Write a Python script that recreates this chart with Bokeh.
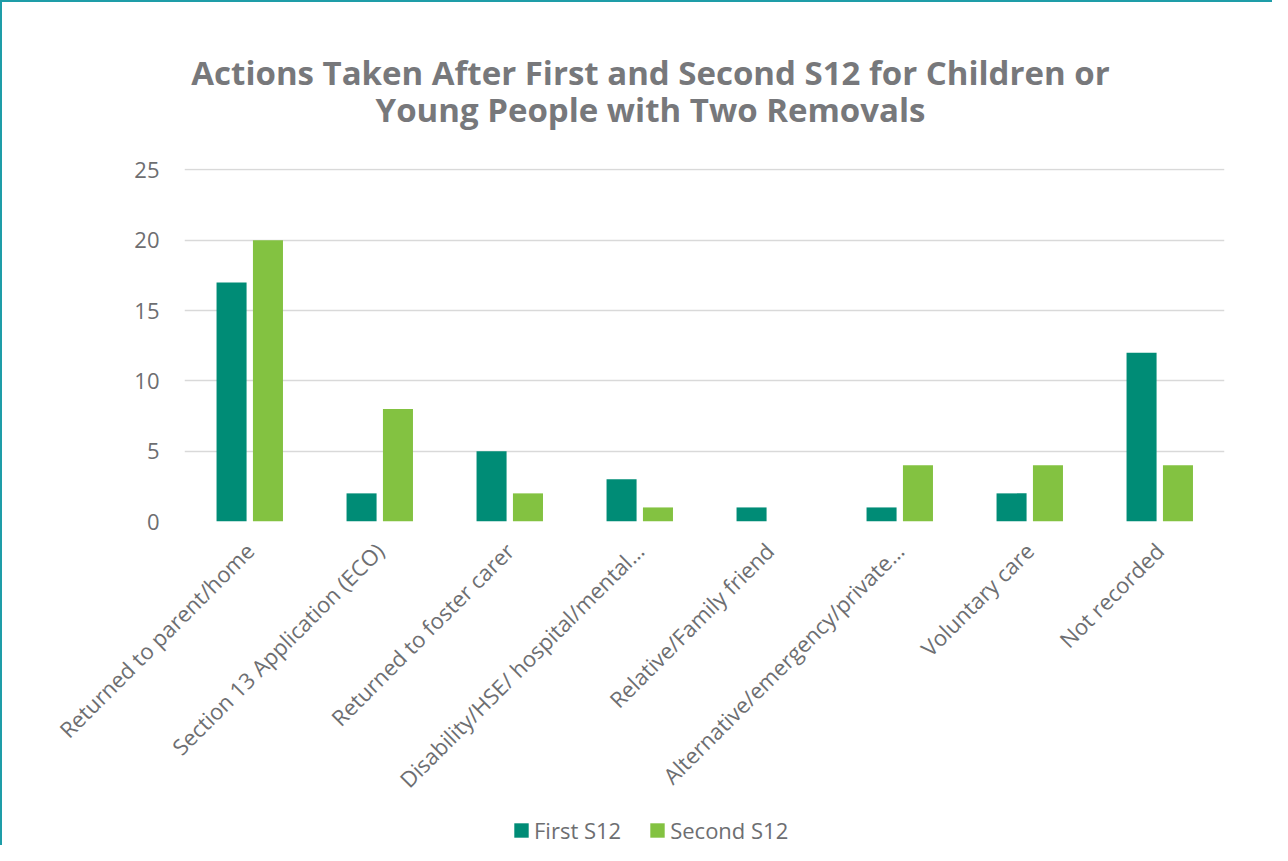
import math
from bokeh.plotting import figure
from bokeh.layouts import column
from bokeh.models import (ColumnDataSource, FactorRange, Range1d, Label, Legend,
                          LegendItem, FixedTicker)
from bokeh.transform import dodge
from bokeh.embed import file_html
from bokeh.resources import INLINE

categories = [
    "Returned to parent/home",
    "Section 13 Application (ECO)",
    "Returned to foster carer",
    "Disability/HSE/ hospital/mental\u2026",
    "Relative/Family friend",
    "Alternative/emergency/private\u2026",
    "Voluntary care",
    "Not recorded",
]
first_s12 = [17, 2, 5, 3, 1, 1, 2, 12]
second_s12 = [20, 8, 2, 1, 0, 4, 4, 4]
y_ticks = [0, 5, 10, 15, 20, 25]
series_names = ["First S12", "Second S12"]
title_lines = ["Actions Taken After First and Second S12 for Children or",
               "Young People with Two Removals"]

TEAL = "#008C76"
GREEN = "#83C241"
GRAY = "#6D6E71"
TITLE_GRAY = "#77787B"
FONT = "Open Sans"
W = 1270
FRAME_L = 182
FRAME_R = 1222


def blank(fig):
    fig.axis.visible = False
    fig.grid.visible = False
    fig.outline_line_color = None
    return fig


# ---- title strip ----
HT = 131
tfig = blank(figure(width=W, height=HT, x_range=Range1d(0, 1), y_range=Range1d(0, 1),
                    output_backend="svg", toolbar_location=None,
                    min_border_left=FRAME_L, min_border_right=W - FRAME_R,
                    min_border_top=0, min_border_bottom=0))
for txt, yb in ((title_lines[0], HT - 70), (title_lines[1], HT - 106.5)):
    tfig.add_layout(Label(x=648 - FRAME_L, y=yb, x_units="screen", y_units="screen",
                          text=txt, text_align="center", text_baseline="alphabetic",
                          text_font=FONT, text_font_style="bold",
                          text_font_size="33px", text_color=TITLE_GRAY))

# ---- main chart ----
HM = 678
src = ColumnDataSource(dict(cat=categories, first=first_s12, second=second_s12))
p = figure(x_range=FactorRange(*categories), y_range=Range1d(0, 25.1),
           width=W, height=HM, output_backend="svg", toolbar_location=None,
           min_border_left=FRAME_L, min_border_right=W - FRAME_R,
           min_border_top=35, min_border_bottom=290)

r1 = p.vbar(x=dodge("cat", -0.138, range=p.x_range), top="first", width=0.231,
            source=src, fill_color=TEAL, line_color=None)
r2 = p.vbar(x=dodge("cat", 0.142, range=p.x_range), top="second", width=0.231,
            source=src, fill_color=GREEN, line_color=None)

p.outline_line_color = None
p.xgrid.grid_line_color = None
p.ygrid.grid_line_color = "#D9D9D9"
p.ygrid.grid_line_width = 1.6

p.yaxis.ticker = FixedTicker(ticks=y_ticks)
for ax in (p.xaxis[0], p.yaxis[0]):
    ax.axis_line_color = None
    ax.major_tick_line_color = None
    ax.minor_tick_line_color = None
    ax.major_tick_out = 0
    ax.major_tick_in = 0
    ax.minor_tick_out = 0
    ax.major_label_text_color = GRAY
    ax.major_label_text_font = FONT
    ax.major_label_text_font_size = "22px"
p.yaxis.major_label_standoff = 25
p.xaxis.major_label_standoff = 25
p.xaxis.major_label_orientation = math.pi / 4

# ---- legend strip ----
HL = 34
lfig = blank(figure(width=W, height=HL, x_range=Range1d(0, 1), y_range=Range1d(0, 1),
                    output_backend="svg", toolbar_location=None,
                    min_border_left=FRAME_L, min_border_right=W - FRAME_R,
                    min_border_top=0, min_border_bottom=0))
dummy = ColumnDataSource(dict(x=[-5.0], top=[0.0]))
d1 = lfig.vbar(x="x", top="top", width=0.01, source=dummy, fill_color=TEAL, line_color=None)
d2 = lfig.vbar(x="x", top="top", width=0.01, source=dummy, fill_color=GREEN, line_color=None)
legend = Legend(items=[LegendItem(label=series_names[0], renderers=[d1]),
                       LegendItem(label=series_names[1], renderers=[d2])],
                orientation="horizontal", location=(328, 0),
                glyph_width=18, glyph_height=18, label_standoff=4, spacing=27,
                padding=0, margin=0, border_line_color=None,
                background_fill_alpha=0,
                label_text_font=FONT, label_text_font_size="22px",
                label_text_color=GRAY)
lfig.add_layout(legend, "center")

layout = column(tfig, p, lfig, spacing=0)
layout.styles = {"border-top": "2px solid #1E9DA8", "border-left": "2px solid #1E9DA8"}

open("out.html", "w").write(file_html(layout, INLINE))
